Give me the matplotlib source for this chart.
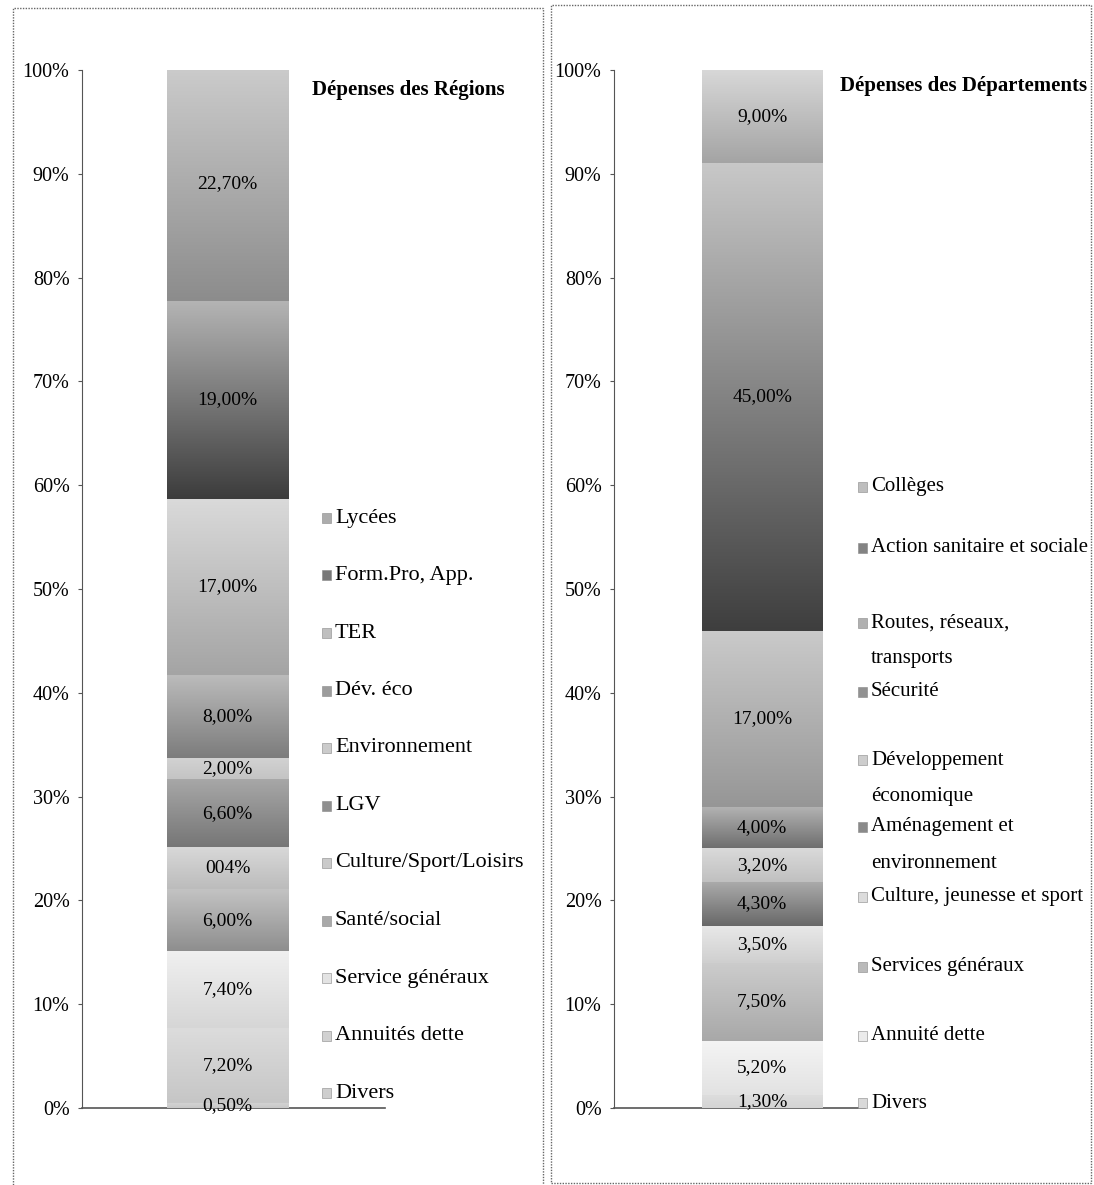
import numpy as np
import matplotlib
matplotlib.use("Agg")
import matplotlib.pyplot as plt
from matplotlib.colors import LinearSegmentedColormap, to_rgb
from matplotlib.patches import Rectangle
from matplotlib.ticker import PercentFormatter

plt.rcParams['font.family'] = ['Liberation Serif', 'DejaVu Serif']

# --- data (stack order bottom -> top) ---
reg_names = ["Divers", "Annuités dette", "Service généraux", "Santé/social",
             "Culture/Sport/Loisirs", "LGV", "Environnement", "Dév. éco",
             "TER", "Form.Pro, App.", "Lycées"]
reg_values = [0.5, 7.2, 7.4, 6.0, 4.0, 6.6, 2.0, 8.0, 17.0, 19.0, 22.7]
reg_labels = ["0,50%", "7,20%", "7,40%", "6,00%", "004%", "6,60%", "2,00%",
              "8,00%", "17,00%", "19,00%", "22,70%"]

dep_names = ["Divers", "Annuité dette", "Services généraux",
             "Culture, jeunesse et sport", "Aménagement et\nenvironnement",
             "Développement\néconomique", "Sécurité",
             "Routes, réseaux,\ntransports", "Action sanitaire et sociale",
             "Collèges"]
dep_values = [1.3, 5.2, 7.5, 3.5, 4.3, 3.2, 4.0, 17.0, 45.0, 9.0]
dep_labels = ["1,30%", "5,20%", "7,50%", "3,50%", "4,30%", "3,20%", "4,00%",
              "17,00%", "45,00%", "9,00%"]

# grey shades (top, bottom) per segment, same order as the data
reg_shades = [("#d4d4d4", "#c8c8c8"), ("#dcdcdc", "#c6c6c6"), ("#f0f0f0", "#d6d6d6"),
              ("#c4c4c4", "#8e8e8e"), ("#d8d8d8", "#bcbcbc"), ("#a8a8a8", "#767676"),
              ("#d2d2d2", "#c4c4c4"), ("#bcbcbc", "#7c7c7c"), ("#dadada", "#a4a4a4"),
              ("#b4b4b4", "#3c3c3c"), ("#cccccc", "#8c8c8c")]
dep_shades = [("#dedede", "#d4d4d4"), ("#f4f4f4", "#e2e2e2"), ("#cccccc", "#a8a8a8"),
              ("#e8e8e8", "#cfcfcf"), ("#acacac", "#686868"), ("#dadada", "#c0c0c0"),
              ("#b4b4b4", "#6e6e6e"), ("#cacaca", "#969696"), ("#c8c8c8", "#3e3e3e"),
              ("#d8d8d8", "#a4a4a4")]

W, H = 1094, 1185
fig = plt.figure(figsize=(W / 100, H / 100), dpi=100)


def fx(px):
    return px / W


def fy(py):
    return 1 - py / H


def draw_panel(rect, names, values, labels, shades, bar_x, bar_w, title, title_xy,
               legend_x, legend_y, line_step, legend_size):
    ax = fig.add_axes(rect)
    bottoms = np.concatenate([[0], np.cumsum(values)[:-1]])
    mids = [tuple((np.array(to_rgb(a)) + np.array(to_rgb(b))) / 2) for a, b in shades]
    bars = ax.bar(bar_x, values, width=bar_w, bottom=bottoms, color=mids,
                  edgecolor="none", zorder=2)
    # vertical grey gradient inside every segment
    grad = np.linspace(0, 1, 256).reshape(-1, 1)
    for rect_p, (top, bot) in zip(bars.patches, shades):
        x0, y0 = rect_p.get_x(), rect_p.get_y()
        cmap = LinearSegmentedColormap.from_list("g", [bot, top])
        ax.imshow(grad, cmap=cmap, origin="lower", aspect="auto", zorder=3,
                  extent=[x0, x0 + rect_p.get_width(), y0, y0 + rect_p.get_height()])
    for b, v, lab in zip(bottoms, values, labels):
        ax.text(bar_x, b + v / 2, lab, ha="center", va="center", fontsize=14,
                color="black", zorder=4)

    ax.set_xlim(0, 1)
    ax.set_ylim(0, 100)
    ax.yaxis.set_major_formatter(PercentFormatter(xmax=100, decimals=0))
    ax.set_yticks(np.arange(0, 101, 10))
    ax.set_xticks([])
    for s in ["top", "right"]:
        ax.spines[s].set_visible(False)
    ax.spines["left"].set_color("#555555")
    ax.spines["bottom"].set_color("#555555")
    ax.spines["left"].set_linewidth(0.8)
    ax.spines["bottom"].set_linewidth(1.2)
    ax.tick_params(axis="y", length=3, width=0.8, color="#555555", pad=6,
                   labelsize=14.5)

    fig.text(fx(title_xy[0]), fy(title_xy[1]), title, fontsize=15,
             fontweight="bold", ha="left", va="center")

    # legend, top entry first
    for i, name in enumerate(reversed(names)):
        k = len(names) - 1 - i
        y = legend_y[i]
        col = mids[k]
        fig.add_artist(Rectangle((fx(legend_x - 4), fy(y + 5)), 9 / W, 10 / H,
                                 transform=fig.transFigure, facecolor=col,
                                 edgecolor="#888888", linewidth=0.4))
        for j, line in enumerate(name.split("\n")):
            fig.text(fx(legend_x + 9), fy(y + j * line_step), line,
                     fontsize=legend_size, ha="left", va="center")
    return ax


top_px, bot_px = 70, 1108
ax_bottom = fy(bot_px)
ax_height = (bot_px - top_px) / H

left_legend_y = [518 + i * 57.5 for i in range(11)]
draw_panel([fx(82), ax_bottom, fx(303), ax_height], reg_names, reg_values,
           reg_labels, reg_shades, 0.48, 0.40, "Dépenses des Régions", (312, 90),
           326, left_legend_y, 36, 16)

right_legend_y = [487, 548, 623, 692, 760, 827, 897, 967, 1036, 1103]
draw_panel([fx(614), ax_bottom, fx(251), ax_height], dep_names, dep_values,
           dep_labels, dep_shades, 0.59, 0.48, "Dépenses des Départements", (840, 86),
           862, right_legend_y, 36, 15)

# scanned panel frames
for (x0, y0, x1, y1) in [(13, 8, 543, 1195), (551, 5, 1091, 1183)]:
    fig.add_artist(Rectangle((fx(x0), fy(y1)), (x1 - x0) / W, (y1 - y0) / H,
                             transform=fig.transFigure, fill=False,
                             edgecolor="#666666", linewidth=1.0,
                             linestyle=(0, (1, 1))))

fig.savefig("out.png", dpi=100)
